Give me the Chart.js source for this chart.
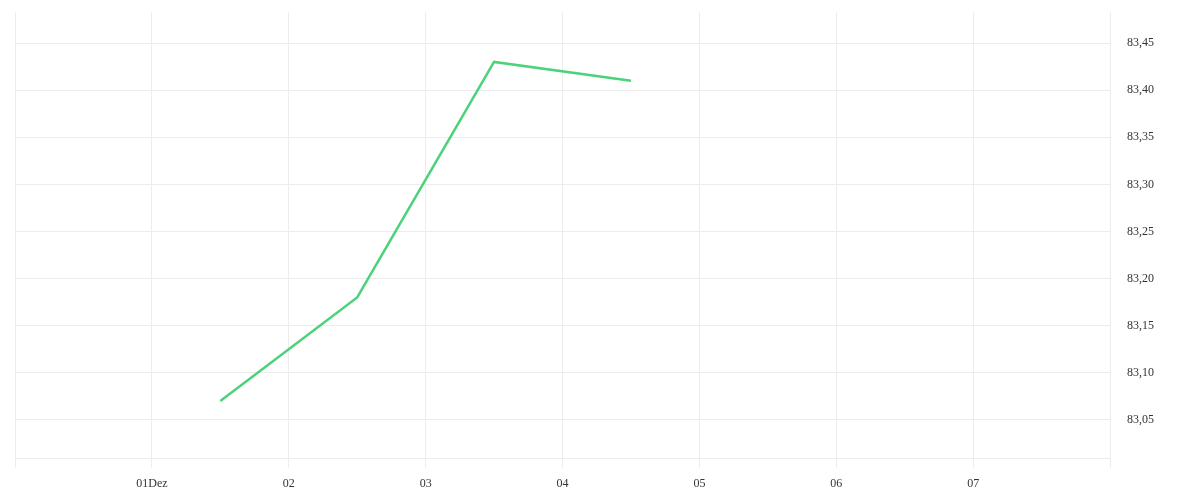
<!DOCTYPE html>
<html>
<head>
<meta charset="utf-8">
<script src="https://cdn.jsdelivr.net/npm/chart.js@4/dist/chart.umd.min.js"></script>
<style>
  html, body { margin: 0; padding: 0; background: #ffffff; }
  #wrap { width: 1200px; height: 500px; }
</style>
</head>
<body>
<div id="wrap"><canvas id="c" width="1200" height="500"></canvas></div>
<script>
// Day offsets from 30 Nov 00:00 (points are at noon of 1..4 Dec)
const dayOffsets = [1.5, 2.5, 3.5, 4.5];
const values = [83.07, 83.18, 83.43, 83.41];
// x tick labels for day offsets 0..8
const xTickLabels = ['', '01Dez', '02', '03', '04', '05', '06', '07', ''];
const yTickValues = [83.05, 83.10, 83.15, 83.20, 83.25, 83.30, 83.35, 83.40, 83.45];
const yTickLabels = ['83,05', '83,10', '83,15', '83,20', '83,25', '83,30', '83,35', '83,40', '83,45'];

const gridColor = '#ececec';
const font = { family: '"Liberation Serif", serif', size: 12 };

const points = dayOffsets.map((d, i) => ({ x: d, y: values[i] }));

new Chart(document.getElementById('c'), {
  type: 'line',
  data: {
    datasets: [{
      data: points,
      borderColor: '#4cd27a',
      borderWidth: 2.5,
      pointRadius: 0,
      pointHoverRadius: 0,
      tension: 0,
      fill: false
    }]
  },
  options: {
    responsive: false,
    animation: false,
    events: [],
    layout: { padding: { left: 15, top: 12, right: 0, bottom: 0 } },
    plugins: { legend: { display: false }, tooltip: { enabled: false } },
    scales: {
      x: {
        type: 'linear',
        position: 'bottom',
        min: 0,
        max: 8,
        afterBuildTicks: (scale) => {
          scale.ticks = xTickLabels.map((_, i) => ({ value: i }));
        },
        afterFit: (scale) => { scale.height = 42; scale.paddingLeft = 0; scale.paddingRight = 0; },
        ticks: {
          autoSkip: false,
          maxRotation: 0,
          padding: 9,
          color: '#333333',
          font: font,
          callback: (v, i) => xTickLabels[i]
        },
        grid: { color: gridColor, lineWidth: 1, tickLength: 10, drawTicks: true },
        border: { display: true, color: gridColor }
      },
      y: {
        type: 'linear',
        position: 'right',
        min: 83.0096,
        max: 83.483,
        afterBuildTicks: (scale) => {
          scale.ticks = yTickValues.map(v => ({ value: v }));
        },
        afterFit: (scale) => { scale.width = 90; scale.paddingTop = 0; scale.paddingBottom = 0; },
        ticks: {
          padding: 17,
          color: '#333333',
          font: font,
          callback: (v, i) => yTickLabels[i]
        },
        grid: { color: gridColor, lineWidth: 1, drawTicks: false },
        border: { display: true, color: gridColor }
      }
    }
  }
});
</script>
</body>
</html>
